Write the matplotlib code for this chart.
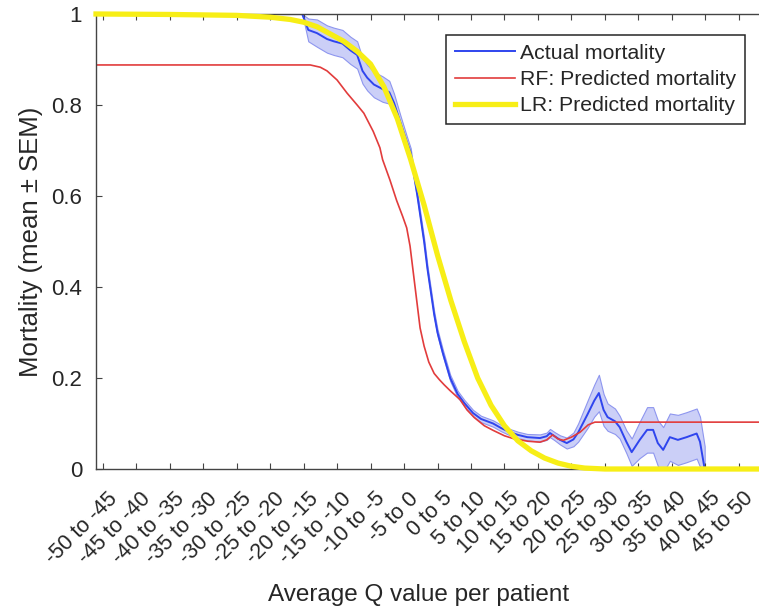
import numpy as np
import matplotlib
matplotlib.use('Agg')
import matplotlib.pyplot as plt
import matplotlib.transforms as mtransforms

# LR: predicted mortality (logistic regression)
lr_q = [-51, -40, -30, -25, -22, -20, -18, -16, -14, -12, -10, -8, -6, -4, -2, 0,
        2, 4, 6, 8, 10, 12, 14, 16, 18, 20, 22, 25, 51]
lr_val = [1.0, 0.999, 0.997, 0.993, 0.988, 0.982, 0.972, 0.956, 0.94, 0.918, 0.89, 0.84,
          0.77, 0.68, 0.58, 0.47, 0.37, 0.28, 0.20, 0.14, 0.095, 0.062, 0.04, 0.024,
          0.013, 0.006, 0.002, 0.0, 0.0]

# actual mortality, mean and SEM
act_q = [-24.4, -20.2, -19.3, -18.0, -16.5, -15.5, -14.2, -13.0, -12.0, -11.2, -10.5,
         -9.5, -8.2, -7.2, -6.5, -5.5, -4.6, -4.0, -3.5, -3.0, -2.5, -2.0, -1.5, -1.0,
         -0.5, 0.0, 0.8, 1.9, 3.0, 4.0, 5.3, 6.5, 8.3, 9.5, 10.8, 12.0, 13.4, 15.3,
         16.3, 16.8, 17.5, 18.3, 19.3, 20.3, 21.0, 22.4, 23.4, 24.1, 24.8, 25.4, 26.5,
         27.2, 28.2, 29.0, 30.2, 31.3, 32.2, 32.9, 33.7, 34.7, 35.9, 37.2, 38.7, 39.2,
         39.9]
act_val = [1.0, 1.0, 0.965, 0.958, 0.945, 0.94, 0.935, 0.92, 0.91, 0.875, 0.86,
           0.845, 0.835, 0.828, 0.805, 0.76, 0.72, 0.695, 0.645, 0.60, 0.55, 0.50, 0.44,
           0.39, 0.34, 0.30, 0.255, 0.20, 0.165, 0.145, 0.123, 0.11, 0.10, 0.09, 0.081,
           0.075, 0.07, 0.068, 0.072, 0.079, 0.072, 0.064, 0.057, 0.065, 0.08, 0.12,
           0.15, 0.167, 0.13, 0.114, 0.105, 0.092, 0.06, 0.037, 0.064, 0.086, 0.086,
           0.057, 0.042, 0.070, 0.064, 0.070, 0.078, 0.06, 0.0]
act_sem = [0.0, 0.0, 0.025, 0.03, 0.03, 0.03, 0.03, 0.03, 0.03, 0.028, 0.028,
           0.028, 0.028, 0.025, 0.02, 0.015, 0.012, 0.01, 0.008, 0.008, 0.007, 0.007,
           0.007, 0.007, 0.007, 0.007, 0.007, 0.007, 0.007, 0.007, 0.007, 0.007, 0.007,
           0.007, 0.007, 0.007, 0.007, 0.008, 0.008, 0.009, 0.009, 0.01, 0.012, 0.015,
           0.02, 0.03, 0.035, 0.04, 0.035, 0.03, 0.028, 0.025, 0.025, 0.03, 0.04, 0.05,
           0.05, 0.05, 0.05, 0.052, 0.055, 0.055, 0.055, 0.055, 0.05]

# RF: predicted mortality (random forest)
rf_q = [-51, -19.0, -17.5, -16.5, -15.0, -13.5, -12.0, -11.0, -9.6, -8.6, -8.2, -7.1,
        -6.1, -5.2, -4.6, -4.1, -3.6, -3.1, -2.6, -2.0, -1.3, -0.5, 0.3, 1.0, 1.9, 3.4,
        4.4, 5.5, 7.0, 8.3, 10.0, 11.5, 13.5, 15.3, 16.3, 17.2, 18.0, 18.8, 20.0, 21.3,
        22.5, 23.5, 51]
rf_val = [0.888, 0.888, 0.883, 0.875, 0.855, 0.826, 0.80, 0.782, 0.742, 0.706, 0.68,
          0.635, 0.59, 0.555, 0.53, 0.49, 0.43, 0.37, 0.31, 0.27, 0.235, 0.21, 0.196,
          0.185, 0.172, 0.152, 0.13, 0.113, 0.095, 0.085, 0.073, 0.066, 0.061, 0.059,
          0.064, 0.075, 0.066, 0.063, 0.07, 0.081, 0.097, 0.103, 0.103]

tick_labels = ['-50 to -45', '-45 to -40', '-40 to -35', '-35 to -30', '-30 to -25',
               '-25 to -20', '-20 to -15', '-15 to -10', '-10 to -5', '-5 to 0',
               '0 to 5', '5 to 10', '10 to 15', '15 to 20', '20 to 25', '25 to 30',
               '30 to 35', '35 to 40', '40 to 45', '45 to 50']

plt.rcParams['font.family'] = ['Liberation Sans', 'DejaVu Sans']
txt = '#262626'

fig = plt.figure(figsize=(7.59, 6.14), dpi=100)
ax = fig.add_axes([96/759, 1-469/614, 683/759, 455/614])

a_q = np.array(act_q)
a_v = np.array(act_val)
a_s = np.array(act_sem)
ax.fill_between(a_q, a_v-a_s, a_v+a_s, facecolor='#cbcff7', edgecolor='#8e96ef',
                linewidth=0.8, zorder=1)
ax.plot(a_q, a_v, color='#2f45ee', lw=1.4, label='Actual mortality', zorder=2)
ax.plot(rf_q, rf_val, color='#e23c3c', lw=1.2, label='RF: Predicted mortality', zorder=2)
ax.plot(lr_q, lr_val, color='#f7ee16', lw=3.8, label='LR: Predicted mortality',
        clip_on=False, zorder=3)

ax.set_xlim(-51, 51)
ax.set_ylim(0, 1)
ax.set_xticks(np.arange(-50, 50, 5))
ax.set_xticklabels(tick_labels, rotation=45, ha='right', va='top', rotation_mode='anchor')
ax.set_yticks([0, 0.2, 0.4, 0.6, 0.8, 1])
ax.set_yticklabels(['0', '0.2', '0.4', '0.6', '0.8', '1'])
ax.tick_params(direction='in', top=True, right=True, length=4, width=0.8,
               colors='#444444', labelcolor=txt)
ax.tick_params(axis='x', labelsize=15.5, pad=13)
ax.tick_params(axis='y', labelsize=16, pad=10)
shift = mtransforms.ScaledTranslation(4/100, -1/100, fig.dpi_scale_trans)
for lab in ax.get_xticklabels():
    lab.set_transform(lab.get_transform() + shift)
for s in ax.spines.values():
    s.set_color('#444444')
    s.set_linewidth(1.0)

ax.set_xlabel('Average Q value per patient', fontsize=17.5, color=txt)
ax.xaxis.set_label_coords((419-96)/683, -0.252)
ax.set_ylabel('Mortality (mean \u00b1 SEM)', fontsize=18.5, color=txt)
ax.yaxis.set_label_coords(-0.077, 0.5)

leg = ax.legend(loc='upper right', bbox_to_anchor=((745-96)/683, (469-35)/455),
                fontsize=15.3, frameon=True, fancybox=False, framealpha=1,
                handlelength=2.8, handletextpad=0.25, labelspacing=0.33,
                borderpad=0.42, borderaxespad=0)
leg.get_frame().set_edgecolor('#262626')
leg.get_frame().set_linewidth(1.1)
for t in leg.get_texts():
    t.set_color(txt)

fig.savefig('out.png', dpi=100)
